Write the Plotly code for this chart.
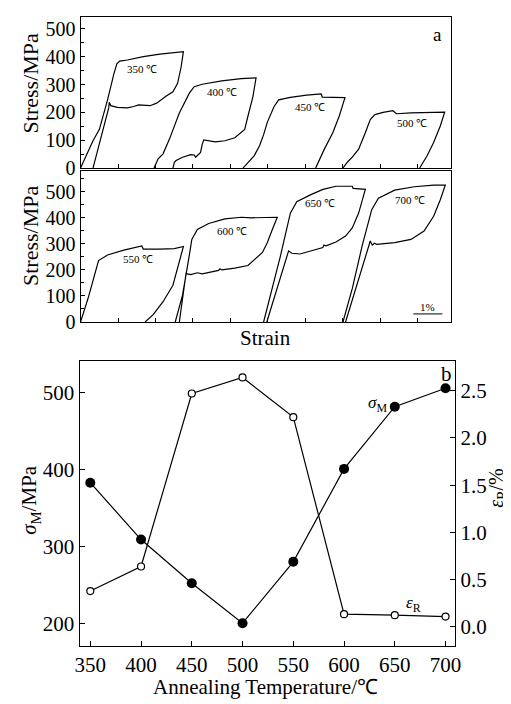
import plotly.graph_objects as go

# ---------------- data: stress-strain loops (strain in %, stress in MPa) ----------------
strain_350 = [0, 0.14, 0.43, 0.65, 0.93, 1.15, 1.25, 1.35, 1.61, 2.16, 2.73, 3.54,
              3.46, 3.34, 3.18, 2.95, 2.62, 2.39, 2.00, 1.83, 1.61, 1.27, 1.04, 0.99, 0.97, 0.43]
stress_350 = [0, 31, 98, 139, 245, 339, 374, 384, 388, 400, 409, 418,
              362, 304, 274, 259, 233, 224, 227, 221, 216, 218, 224, 236, 216, 0]

strain_400 = [2.53, 2.67, 2.84, 3.06, 3.40, 3.74, 3.91, 4.19, 4.86, 5.53, 6.04,
              5.93, 5.76, 5.65, 5.31, 4.97, 4.64, 4.35, 4.24, 4.19, 4.13, 3.96, 3.91, 3.79, 3.51, 3.29, 3.23, 3.20, 3.18]
stress_400 = [0, 33, 51, 104, 198, 268, 292, 301, 313, 321, 324,
              256, 186, 139, 109, 98, 94, 98, 101, 86, 56, 39, 47, 48, 39, 27, 21, 9, 0]

strain_450 = [5.59, 5.76, 5.98, 6.16, 6.30, 6.43, 6.66, 6.82, 7.22, 7.78, 8.28, 8.32, 9.10,
              8.90, 8.68, 8.39, 8.09]
stress_450 = [0, 20, 45, 80, 120, 165, 221, 245, 254, 262, 266, 255, 253,
              186, 127, 68, 0]

strain_500 = [9.03, 9.18, 9.35, 9.57, 9.80, 9.97, 10.13, 10.41, 10.75, 10.87, 11.37, 12.53,
              12.38, 12.15, 11.93, 11.67]
stress_500 = [0, 21, 39, 68, 127, 174, 192, 200, 206, 195, 198, 201,
              151, 92, 45, 0]

strain_550 = [0, 0.26, 0.48, 0.62, 0.93, 1.49, 2.11, 2.16, 2.73, 3.23, 3.54,
              3.40, 3.18, 2.84, 2.50, 2.22]
stress_550 = [0, 91, 179, 236, 257, 276, 292, 280, 280, 282, 290,
              229, 141, 78, 28, 0]

strain_600 = [3.26, 3.51, 3.74, 3.83, 4.02, 4.41, 4.97, 5.53, 5.87, 6.43, 6.77,
              6.60, 6.43, 6.26, 6.09, 5.76, 5.31, 4.86, 4.80, 4.75, 4.19, 4.02, 3.79, 3.63, 3.40]
stress_600 = [0, 103, 254, 317, 355, 378, 396, 402, 400, 400, 402,
              355, 305, 267, 250, 217, 207, 200, 204, 198, 185, 189, 182, 186, 0]

strain_650 = [6.30, 6.54, 6.88, 7.22, 7.44, 7.89, 8.34, 8.79, 9.35, 9.38, 9.80,
              9.57, 9.35, 9.12, 8.79, 8.45, 8.37, 8.34, 7.89, 7.55, 7.27, 7.16, 6.41]
stress_650 = [0, 103, 254, 418, 462, 487, 509, 521, 521, 513, 509,
              418, 361, 330, 307, 292, 295, 286, 273, 261, 264, 273, 0]

strain_700 = [9.03, 9.35, 9.69, 10.02, 10.25, 10.81, 11.48, 12.15, 12.55,
              12.38, 12.15, 11.82, 11.37, 10.81, 10.19, 10.11, 10.04, 9.97, 9.12]
stress_700 = [0, 128, 292, 431, 475, 506, 519, 525, 525,
              469, 406, 349, 317, 305, 298, 302, 295, 311, 0]

loop_labels_top = ["350 ℃", "400 ℃", "450 ℃", "500 ℃"]
loop_label_x_top = [2.11, 4.86, 7.89, 11.42]
loop_label_y_top = [356, 274, 221, 162]
loop_labels_bot = ["550 ℃", "600 ℃", "650 ℃", "700 ℃"]
loop_label_x_bot = [1.98, 5.22, 8.23, 11.35]
loop_label_y_bot = [242, 349, 456, 468]

scale_bar_start = 11.45   # strain, %
scale_bar_len = 1.0       # 1 %
scale_bar_stress = 31

# ---------------- data: panel b ----------------
temps = [350, 400, 450, 500, 550, 600, 650, 700]
sigma_M = [383, 309, 252, 200, 280, 401, 482, 506]
eps_R = [0.38, 0.64, 2.47, 2.64, 2.22, 0.135, 0.125, 0.11]

FONT = "Liberation Serif, Times New Roman, serif"
W, H = 511, 704

def px_x(p):
    return p / W

def px_y(p):
    return 1 - p / H

fig = go.Figure()
line_style = dict(color="black", width=1.2)

for sx, sy in [(strain_350, stress_350), (strain_400, stress_400),
               (strain_450, stress_450), (strain_500, stress_500)]:
    fig.add_trace(go.Scatter(x=sx, y=sy, mode="lines", line=line_style,
                             xaxis="x", yaxis="y", showlegend=False, hoverinfo="skip"))
for sx, sy in [(strain_550, stress_550), (strain_600, stress_600),
               (strain_650, stress_650), (strain_700, stress_700)]:
    fig.add_trace(go.Scatter(x=sx, y=sy, mode="lines", line=line_style,
                             xaxis="x2", yaxis="y2", showlegend=False, hoverinfo="skip"))

# scale bar
fig.add_trace(go.Scatter(x=[scale_bar_start, scale_bar_start + scale_bar_len],
                         y=[scale_bar_stress, scale_bar_stress], mode="lines",
                         line=dict(color="black", width=1), xaxis="x2", yaxis="y2",
                         showlegend=False, hoverinfo="skip"))

# panel b
fig.add_trace(go.Scatter(x=temps, y=sigma_M, mode="lines+markers",
                         line=dict(color="black", width=1.2),
                         marker=dict(symbol="circle", size=10, color="black"),
                         xaxis="x3", yaxis="y3", showlegend=False))
fig.add_trace(go.Scatter(x=temps, y=eps_R, mode="lines+markers",
                         line=dict(color="black", width=1.2),
                         marker=dict(symbol="circle", size=7, color="white",
                                     line=dict(color="black", width=1.2)),
                         xaxis="x3", yaxis="y4", showlegend=False))

xa_dom = [px_x(69), px_x(448)]
tickfont = dict(family=FONT, size=20, color="black")
common_frame = dict(showline=True, linecolor="black", linewidth=1.2, mirror=True,
                    showgrid=False, zeroline=False)

strain_range = [0, 12.76]

fig.update_layout(
    width=W, height=H, margin=dict(l=0, r=0, t=0, b=0),
    paper_bgcolor="white", plot_bgcolor="white",
    font=dict(family=FONT, color="black"),
    xaxis=dict(domain=xa_dom, anchor="y", range=strain_range, showticklabels=False,
               ticks="inside", ticklen=4, dtick=1.29, tick0=0, tickcolor="black",
               **common_frame),
    yaxis=dict(domain=[px_y(162.6), px_y(9)], anchor="x", range=[0, 543],
               dtick=100, ticks="inside", ticklen=4, tickcolor="black",
               minor=dict(dtick=50, ticks="inside", ticklen=3, tickcolor="black"),
               tickfont=tickfont, **common_frame),
    xaxis2=dict(domain=xa_dom, anchor="y2", range=strain_range, showticklabels=False,
                ticks="inside", ticklen=4, dtick=1.29, tick0=0, tickcolor="black",
                **common_frame),
    yaxis2=dict(domain=[px_y(319), px_y(166)], anchor="x2", range=[0, 578],
                dtick=100, ticks="inside", ticklen=4, tickcolor="black",
                minor=dict(dtick=50, ticks="inside", ticklen=3, tickcolor="black"),
                tickfont=tickfont, **common_frame),
    xaxis3=dict(domain=[px_x(68), px_x(452)], anchor="y3", range=[339.4, 709.6],
                tickvals=temps, ticks="inside", ticklen=5, tickcolor="black",
                tickfont=dict(family=FONT, size=21, color="black"),
                showline=True, linecolor="black", linewidth=1.2, mirror=True,
                showgrid=False, zeroline=False),
    yaxis3=dict(domain=[px_y(648), px_y(359)], anchor="x3", range=[170.5, 541],
                tickvals=[200, 300, 400, 500], ticks="inside", ticklen=5, tickcolor="black",
                tickfont=dict(family=FONT, size=21, color="black"),
                showline=True, linecolor="black", linewidth=1.2,
                showgrid=False, zeroline=False),
    yaxis4=dict(domain=[px_y(648), px_y(359)], anchor="x3", overlaying="y3", side="right",
                range=[-0.2, 2.81], tickvals=[0, 0.5, 1.0, 1.5, 2.0, 2.5],
                ticktext=["0.0", "0.5", "1.0", "1.5", "2.0", "2.5"],
                ticks="inside", ticklen=5, tickcolor="black",
                tickfont=dict(family=FONT, size=21, color="black"),
                showline=True, linecolor="black", linewidth=1.2,
                showgrid=False, zeroline=False),
)

C = dict(xanchor="center", yanchor="middle", showarrow=False)
ann = []
for t, x, y in zip(loop_labels_top, loop_label_x_top, loop_label_y_top):
    ann.append(dict(text=t, x=x, y=y, xref="x", yref="y",
                    font=dict(family=FONT, size=11, color="black"), **C))
for t, x, y in zip(loop_labels_bot, loop_label_x_bot, loop_label_y_bot):
    ann.append(dict(text=t, x=x, y=y, xref="x2", yref="y2",
                    font=dict(family=FONT, size=11, color="black"), **C))
ann.append(dict(text="1%", x=scale_bar_start + scale_bar_len / 2, y=59, xref="x2", yref="y2",
                font=dict(family=FONT, size=11, color="black"), **C))
ann.append(dict(text="a", x=px_x(434), y=px_y(27), xref="paper", yref="paper",
                font=dict(family=FONT, size=19, color="black"), **C))
ann.append(dict(text="Stress/MPa", x=px_x(18), y=px_y(77), xref="paper", yref="paper",
                textangle=-90, font=dict(family=FONT, size=22, color="black"), **C))
ann.append(dict(text="Stress/MPa", x=px_x(18), y=px_y(232), xref="paper", yref="paper",
                textangle=-90, font=dict(family=FONT, size=22, color="black"), **C))
ann.append(dict(text="Strain", x=px_x(258), y=px_y(335), xref="paper", yref="paper",
                font=dict(family=FONT, size=21, color="black"), **C))
ann.append(dict(text="b", x=px_x(443), y=px_y(372), xref="paper", yref="paper",
                font=dict(family=FONT, size=21, color="black"), **C))
ann.append(dict(text="<i>σ</i><sub>M</sub>", x=px_x(373), y=px_y(402), xref="paper", yref="paper",
                font=dict(family=FONT, size=17, color="black"), **C))
ann.append(dict(text="<i>ε</i><sub>R</sub>", x=px_x(409), y=px_y(605), xref="paper", yref="paper",
                font=dict(family=FONT, size=17, color="black"), **C))
ann.append(dict(text="<i>σ</i><sub>M</sub>/MPa", x=px_x(18), y=px_y(500), xref="paper", yref="paper",
                textangle=-90, font=dict(family=FONT, size=21, color="black"), **C))
ann.append(dict(text="<i>ε</i><sub>R</sub>/%", x=px_x(495), y=px_y(488), xref="paper", yref="paper",
                textangle=-90, font=dict(family=FONT, size=20, color="black"), **C))
ann.append(dict(text="Annealing Temperature/℃", x=px_x(258), y=px_y(690), xref="paper", yref="paper",
                font=dict(family=FONT, size=21, color="black"), **C))
fig.update_layout(annotations=ann)

fig.write_html("out.html")
